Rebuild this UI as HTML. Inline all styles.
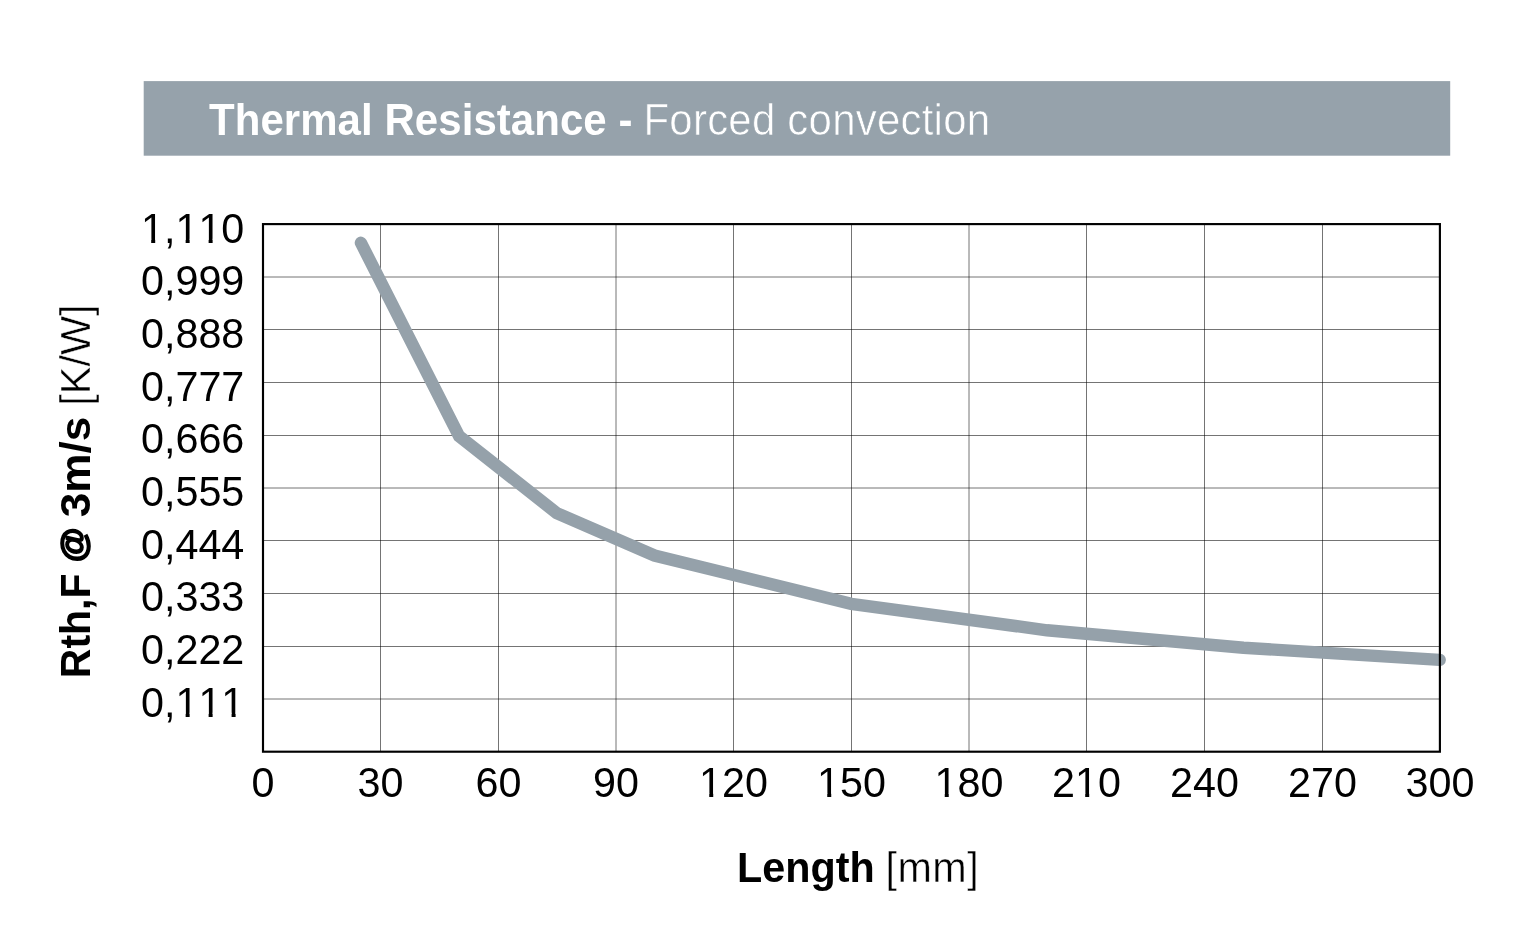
<!DOCTYPE html>
<html lang="en">
<head>
<meta charset="utf-8">
<title>Thermal Resistance - Forced convection</title>
<style>
html,body{margin:0;padding:0;background:#fff;}
body{width:1526px;height:947px;overflow:hidden;}
svg{display:block;}
text{font-family:"Liberation Sans",Arial,Helvetica,sans-serif;}
.b{font-weight:bold;}
.tk text{font-kerning:none;font-feature-settings:"kern" 0;}
</style>
</head>
<body>
<svg width="1526" height="947" viewBox="0 0 1526 947">
<rect x="0" y="0" width="1526" height="947" fill="#ffffff"/>
<rect x="143.7" y="81.1" width="1306.5" height="74.6" fill="#96a2ab"/>
<text transform="translate(209,134.6) scale(1,1.045)" font-size="42" fill="#ffffff" class="b" letter-spacing="0.06">Thermal Resistance -</text>
<text transform="translate(643.5,134.6) scale(1,1.045)" font-size="42" fill="#ffffff" stroke="#96a2ab" stroke-width="0.6" letter-spacing="0.22">Forced convection</text>

<g stroke="#000000" stroke-width="0.55" fill="none">
<line x1="380.5" y1="224.1" x2="380.5" y2="751.7"/>
<line x1="498.5" y1="224.1" x2="498.5" y2="751.7"/>
<line x1="616.0" y1="224.1" x2="616.0" y2="751.7"/>
<line x1="733.5" y1="224.1" x2="733.5" y2="751.7"/>
<line x1="851.5" y1="224.1" x2="851.5" y2="751.7"/>
<line x1="969.0" y1="224.1" x2="969.0" y2="751.7"/>
<line x1="1086.5" y1="224.1" x2="1086.5" y2="751.7"/>
<line x1="1204.5" y1="224.1" x2="1204.5" y2="751.7"/>
<line x1="1322.5" y1="224.1" x2="1322.5" y2="751.7"/>
<line x1="263.0" y1="277.0" x2="1439.9" y2="277.0"/>
<line x1="263.0" y1="329.5" x2="1439.9" y2="329.5"/>
<line x1="263.0" y1="382.5" x2="1439.9" y2="382.5"/>
<line x1="263.0" y1="435.5" x2="1439.9" y2="435.5"/>
<line x1="263.0" y1="488.0" x2="1439.9" y2="488.0"/>
<line x1="263.0" y1="540.5" x2="1439.9" y2="540.5"/>
<line x1="263.0" y1="593.5" x2="1439.9" y2="593.5"/>
<line x1="263.0" y1="646.5" x2="1439.9" y2="646.5"/>
<line x1="263.0" y1="699.0" x2="1439.9" y2="699.0"/>
</g>
<path d="M360.9,242.8 L459.15,436.2 L556.75,513.1 L654.5,555.5 L851.2,603.8 L1047,630.3 L1243.5,647.7 L1439.7,659.9" fill="none" stroke="#95a1aa" stroke-width="12.4" stroke-linecap="round" stroke-linejoin="miter"/>
<rect x="263.0" y="224.1" width="1176.90" height="527.60" fill="none" stroke="#000" stroke-width="2.15"/>
<g class="tk" font-size="41.3" fill="#000">
<text transform="translate(141.00,242.60) scale(1,1.04)" >1,110</text>
<text transform="translate(141.00,295.26) scale(1,1.04)" >0,999</text>
<text transform="translate(141.00,347.92) scale(1,1.04)" >0,888</text>
<text transform="translate(141.00,400.58) scale(1,1.04)" >0,777</text>
<text transform="translate(141.00,453.24) scale(1,1.04)" >0,666</text>
<text transform="translate(141.00,505.90) scale(1,1.04)" >0,555</text>
<text transform="translate(141.00,558.56) scale(1,1.04)" >0,444</text>
<text transform="translate(141.00,611.22) scale(1,1.04)" >0,333</text>
<text transform="translate(141.00,663.88) scale(1,1.04)" >0,222</text>
<text transform="translate(141.00,716.54) scale(1,1.04)" >0,111</text>
</g>
<g class="tk" font-size="41.3" fill="#000">
<text transform="translate(251.51,796.70) scale(1,1.04)" >0</text>
<text transform="translate(357.53,796.70) scale(1,1.04)" >30</text>
<text transform="translate(475.53,796.70) scale(1,1.04)" >60</text>
<text transform="translate(593.03,796.70) scale(1,1.04)" >90</text>
<text transform="translate(699.04,796.70) scale(1,1.04)" >120</text>
<text transform="translate(817.04,796.70) scale(1,1.04)" >150</text>
<text transform="translate(934.54,796.70) scale(1,1.04)" >180</text>
<text transform="translate(1052.04,796.70) scale(1,1.04)" >210</text>
<text transform="translate(1170.04,796.70) scale(1,1.04)" >240</text>
<text transform="translate(1288.04,796.70) scale(1,1.04)" >270</text>
<text transform="translate(1405.54,796.70) scale(1,1.04)" >300</text>
</g>
<g fill="#ffffff"><rect x="143.40" y="238.85" width="7.80" height="4.8"/><rect x="155.20" y="238.85" width="7.40" height="4.8"/><rect x="177.84" y="238.85" width="7.80" height="4.8"/><rect x="189.64" y="238.85" width="7.40" height="4.8"/><rect x="200.82" y="238.85" width="7.80" height="4.8"/><rect x="212.62" y="238.85" width="7.40" height="4.8"/><rect x="177.84" y="712.79" width="7.80" height="4.8"/><rect x="189.64" y="712.79" width="7.40" height="4.8"/><rect x="200.82" y="712.79" width="7.80" height="4.8"/><rect x="212.62" y="712.79" width="7.40" height="4.8"/><rect x="223.79" y="712.79" width="7.80" height="4.8"/><rect x="235.59" y="712.79" width="7.40" height="4.8"/><rect x="701.44" y="792.95" width="7.80" height="4.8"/><rect x="713.24" y="792.95" width="7.40" height="4.8"/><rect x="819.44" y="792.95" width="7.80" height="4.8"/><rect x="831.24" y="792.95" width="7.40" height="4.8"/><rect x="936.94" y="792.95" width="7.80" height="4.8"/><rect x="948.74" y="792.95" width="7.40" height="4.8"/><rect x="1077.41" y="792.95" width="7.80" height="4.8"/><rect x="1089.21" y="792.95" width="7.40" height="4.8"/></g>
<text transform="translate(737.00,881.70) scale(1,1.04)" font-size="41.3" fill="#000" class="b">Length</text>
<text transform="translate(885.50,881.70) scale(1,1.04)" font-size="41.3" fill="#000" stroke="#fff" stroke-width="0.45" letter-spacing="0.5">[mm]</text>
<text transform="translate(90.3,678.18) rotate(-90) scale(0.992,1.04)" font-size="41.3" fill="#000" class="b">Rth,F</text>
<text transform="translate(84.9,562.2) rotate(-90) scale(1.08,1.09)" font-size="33" fill="#000" class="b" stroke="#000" stroke-width="1.5">@</text>
<text transform="translate(90.3,517.17) rotate(-90) scale(1.066,1.04)" font-size="41.3" fill="#000" class="b">3m/s</text>
<text transform="translate(90.3,405.7) rotate(-90) scale(1.004,1.04)" font-size="41.3" fill="#000" stroke="#fff" stroke-width="0.45">[K/W]</text>
</svg>
</body>
</html>
